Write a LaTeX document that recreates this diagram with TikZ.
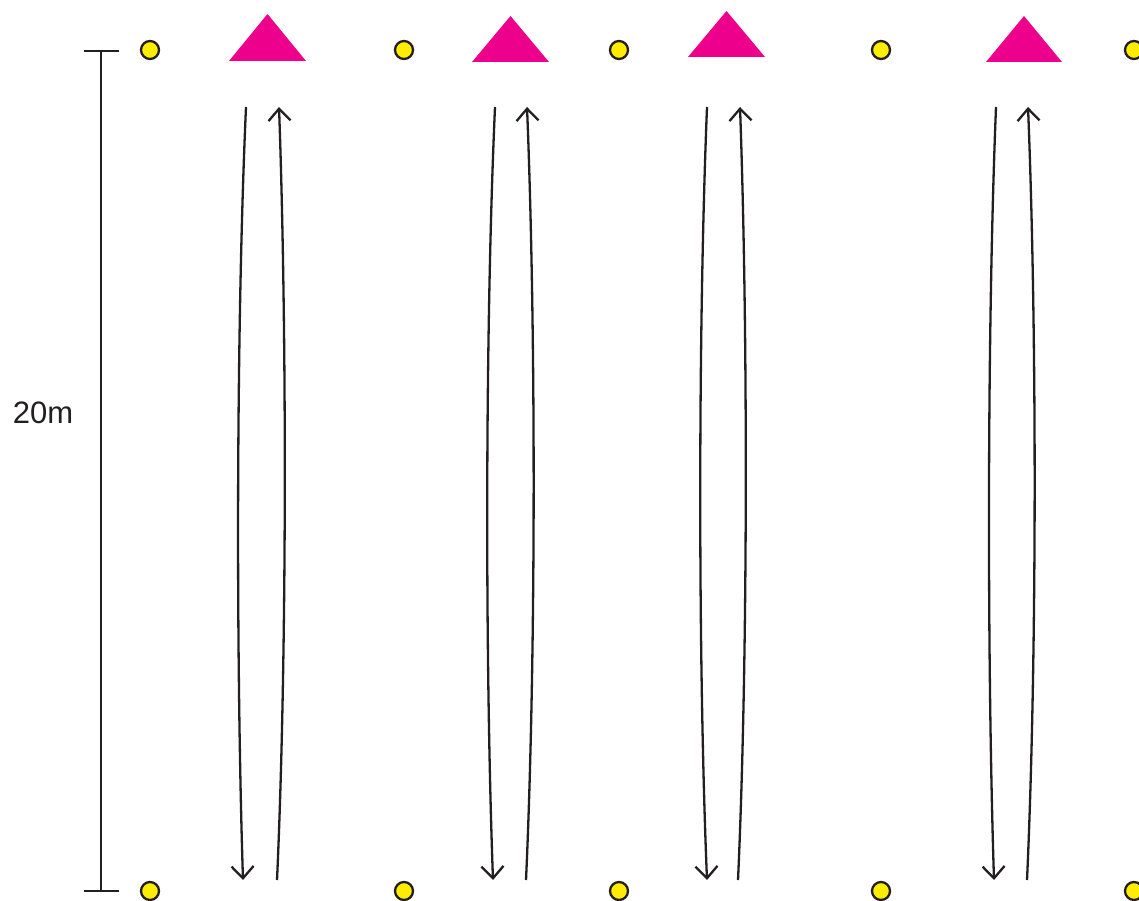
\documentclass[tikz,border=0pt]{standalone}
\usepackage{fontspec}
\setmainfont{Liberation Sans}
\usetikzlibrary{arrows.meta}
\definecolor{ink}{RGB}{35,31,32}
\definecolor{cone}{RGB}{255,237,0}
\definecolor{mag}{RGB}{236,0,140}
\tikzset{
  conedot/.style={circle,draw=ink,fill=cone,line width=2.3pt,minimum size=18pt,inner sep=0pt},
  marker/.style={fill=mag,draw=none},
  run/.style={draw=ink,line width=2.3pt,-{Straight Barb[length=12pt,width=22pt,line width=2.3pt]}},
  bar/.style={draw=ink,line width=2.3pt}
}
\begin{document}
\begin{tikzpicture}[x=1pt,y=-1pt]
\useasboundingbox (0,0) rectangle (1139,901);
% scale bar
\coordinate (bt) at (101,51);
\coordinate (bb) at (101,891);
\draw[bar] (bt) -- (bb);
\draw[bar] (84,51) -- (119,51);
\draw[bar] (84,891) -- (119,891);
\node[font=\fontsize{31}{34}\selectfont,text=ink] (lbl) at (43,413) {20m};
% cones
\foreach \x [count=\i] in {150,404,619,881,1134}{
  \node[conedot] (ct\i) at (\x,50) {};
  \node[conedot] (cb\i) at (\x,891) {};
}
% triangles
\fill[marker] (229,61) -- (267.5,14) -- (306,61) -- cycle;
\fill[marker] (472,62) -- (510.5,16) -- (549,62) -- cycle;
\fill[marker] (688,57) -- (726.5,11) -- (765,57) -- cycle;
\fill[marker] (986,62) -- (1024,16) -- (1062,62) -- cycle;
% arrows
\foreach \i/\da/\db/\dc/\ua/\ub/\uc in {
  1/246/243/236/277/279/287,
  2/495/493/485/526/527/536,
  3/707/707/698/738/740/748,
  4/996/994/987/1027/1028/1037}{
  \coordinate (ds\i) at (\da,107);
  \coordinate (de\i) at (\db,880);
  \coordinate (us\i) at (\ua,880);
  \coordinate (ue\i) at (\ub,107);
  \draw[run] (ds\i) .. controls (\dc,330) and (\dc,660) .. (de\i);
  \draw[run] (us\i) .. controls (\uc,660) and (\uc,330) .. (ue\i);
}
\end{tikzpicture}
\end{document}
